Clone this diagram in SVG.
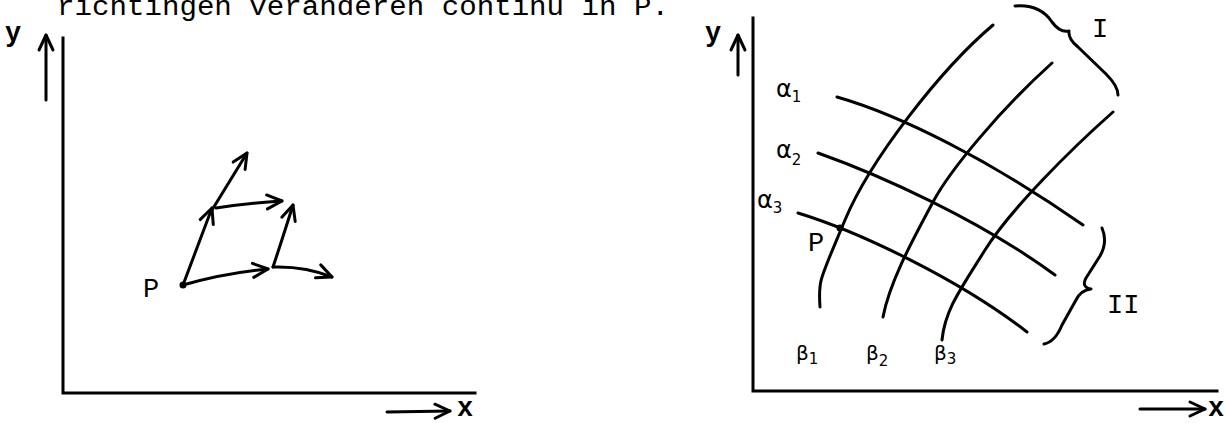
<svg xmlns="http://www.w3.org/2000/svg" width="1231" height="423" viewBox="0 0 1231 423">
<style>
.ink{fill:none;stroke:#000;stroke-width:3;stroke-linecap:round;stroke-linejoin:round}
.axis{fill:none;stroke:#000;stroke-width:3;stroke-linecap:square}
.tw{font-family:"Liberation Mono","DejaVu Sans Mono",monospace;font-size:27px;fill:#000}
.bold{font-weight:bold}
.gr{font-family:"DejaVu Sans","Liberation Sans",sans-serif;fill:#000}
</style>
<defs>
<marker id="ah" markerUnits="userSpaceOnUse" markerWidth="30" markerHeight="30" viewBox="-20 -15 30 30" refX="0" refY="0" orient="auto">
<path d="M-15,-7 L0,0 L-15,7" fill="none" stroke="#000" stroke-width="3" stroke-linecap="round" stroke-linejoin="round"/>
</marker>
</defs>
<rect width="1231" height="423" fill="#fff"/>
<text class="tw" x="57" y="15" textLength="612" lengthAdjust="spacingAndGlyphs">richtingen veranderen continu in P.</text>

<g id="left-axes">
<path class="axis" d="M63,38 L63,393 L475,393"/>
<text class="tw bold" x="5" y="41">y</text>
<path class="ink" d="M46,100 L46,35" marker-end="url(#ah)"/>
<path class="ink" d="M387,412 L450,411" marker-end="url(#ah)"/>
<text class="tw bold" x="457" y="416">x</text>
</g>

<g id="left-P">
<circle cx="183" cy="285" r="3.5" fill="#000"/>
<text class="tw" x="143" y="297">P</text>
</g>

<g id="left-connectors">
<path class="ink" d="M183,285 Q225,273 268,269" marker-end="url(#ah)"/>
<path class="ink" d="M273,267 Q305,266 332,277" marker-end="url(#ah)"/>
<path class="ink" d="M273,267 Q282,240 293,205" marker-end="url(#ah)"/>
<path class="ink" d="M183,285 L212,208" marker-end="url(#ah)"/>
<path class="ink" d="M212,210 L247,153" marker-end="url(#ah)"/>
<path class="ink" d="M216,208 Q250,203 282,201" marker-end="url(#ah)"/>
</g>

<g id="right-axes">
<path class="axis" d="M753,18 L753,391 L1217,391"/>
<text class="tw bold" x="705" y="41">y</text>
<path class="ink" d="M738,75 L738,35" marker-end="url(#ah)"/>
<path class="ink" d="M1140,409 L1205,409" marker-end="url(#ah)"/>
<text class="tw bold" x="1208" y="416">x</text>
</g>

<g id="beta-curves">
<path class="ink" d="M993,25 C940,70 870,160 845,220 S818,280 820,307"/>
<path class="ink" d="M1052,63 C1000,110 950,170 933,202 S890,280 883,317"/>
<path class="ink" d="M1113,112 C1070,150 1010,210 985,250 S945,310 942,340"/>
</g>
<g id="alpha-curves">
<path class="ink" d="M837,97 C900,115 990,160 1083,225"/>
<path class="ink" d="M818,153 C880,175 980,220 1055,275"/>
<path class="ink" d="M798,213 C860,232 960,280 1027,332"/>
</g>

<g id="right-P">
<circle cx="840" cy="228" r="3.5" fill="#000"/>
<text class="tw" x="808" y="251">P</text>
</g>

<g id="alpha-labels">
<text class="gr" x="776" y="97" font-size="24">α<tspan font-size="15" dy="5">1</tspan></text>
<text class="gr" x="776" y="158" font-size="24">α<tspan font-size="15" dy="7">2</tspan></text>
<text class="gr" x="757" y="208" font-size="24">α<tspan font-size="15" dy="5">3</tspan></text>
</g>
<g id="beta-labels">
<text class="gr" x="796" y="360" font-size="20">β<tspan font-size="15" dy="4">1</tspan></text>
<text class="gr" x="866" y="360" font-size="20">β<tspan font-size="15" dy="6">2</tspan></text>
<text class="gr" x="934" y="360" font-size="20">β<tspan font-size="15" dy="4">3</tspan></text>
</g>

<g id="brace-I">
<path class="ink" d="M1015,6 Q1040,4 1052,22 Q1060,33 1069,31 Q1068,39 1078,47 L1106,74 Q1118,86 1118,95"/>
<text class="tw" x="1092" y="37">I</text>
</g>
<g id="brace-II">
<path class="ink" d="M1102,228 Q1108,242 1100,256 L1086,278 Q1081,287 1091,289 Q1081,290 1076,300 L1062,325 Q1055,342 1044,344"/>
<text class="tw" x="1107" y="313">II</text>
</g>
</svg>
